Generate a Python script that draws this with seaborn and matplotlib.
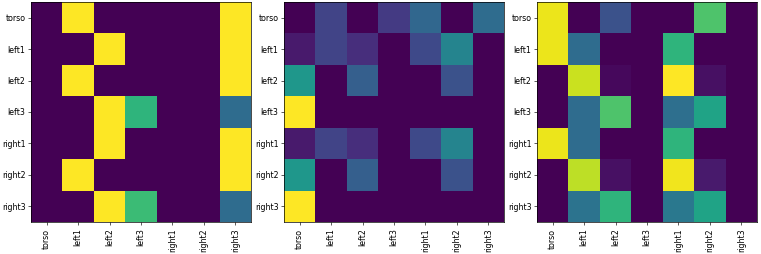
import numpy as np
import pandas as pd
import matplotlib
matplotlib.use("Agg")
import matplotlib.pyplot as plt
import seaborn as sns

labels = ["torso", "left1", "left2", "left3", "right1", "right2", "right3"]

panel1 = [
    [0, 1, 0, 0, 0, 0, 1],
    [0, 0, 1, 0, 0, 0, 1],
    [0, 1, 0, 0, 0, 0, 1],
    [0, 0, 1, 0.65, 0, 0, 0.35],
    [0, 0, 1, 0, 0, 0, 1],
    [0, 1, 0, 0, 0, 0, 1],
    [0, 0, 1, 0.68, 0, 0, 0.35],
]
panel2 = [
    [0, 0.2, 0, 0.17, 0.33, 0, 0.35],
    [0.07, 0.2, 0.13, 0, 0.22, 0.45, 0],
    [0.53, 0, 0.3, 0, 0, 0.25, 0],
    [1, 0, 0, 0, 0, 0, 0],
    [0.07, 0.2, 0.13, 0, 0.22, 0.45, 0],
    [0.53, 0, 0.3, 0, 0, 0.25, 0],
    [1, 0, 0, 0, 0, 0, 0],
]
panel3 = [
    [0.97, 0, 0.25, 0, 0, 0.72, 0],
    [0.97, 0.35, 0, 0, 0.65, 0, 0],
    [0, 0.92, 0.02, 0, 1.0, 0.04, 0],
    [0, 0.35, 0.72, 0, 0.36, 0.58, 0],
    [0.97, 0.35, 0, 0, 0.65, 0, 0],
    [0, 0.9, 0.04, 0, 0.98, 0.07, 0],
    [0, 0.38, 0.65, 0, 0.4, 0.58, 0],
]

W, H = 761, 255
fig = plt.figure(figsize=(W / 100, H / 100), dpi=100)
lefts = [31, 284, 537]
aw, ah = 220, 220
top = 3
for left, data in zip(lefts, [panel1, panel2, panel3]):
    ax = fig.add_axes([left / W, 1 - (top + ah) / H, aw / W, ah / H])
    df = pd.DataFrame(data, index=labels, columns=labels)
    sns.heatmap(df, ax=ax, cmap="viridis", cbar=False, square=False,
                vmin=0, vmax=float(np.max(data)))
    for s in ax.spines.values():
        s.set_visible(True)
        s.set_color("black")
        s.set_linewidth(0.5)
    ax.tick_params(axis="both", labelsize=5.7, length=2, width=0.45, pad=2)
    ax.set_xticklabels(labels, rotation=90)
    ax.set_yticklabels(labels, rotation=0)

fig.savefig("out.png", dpi=100)
